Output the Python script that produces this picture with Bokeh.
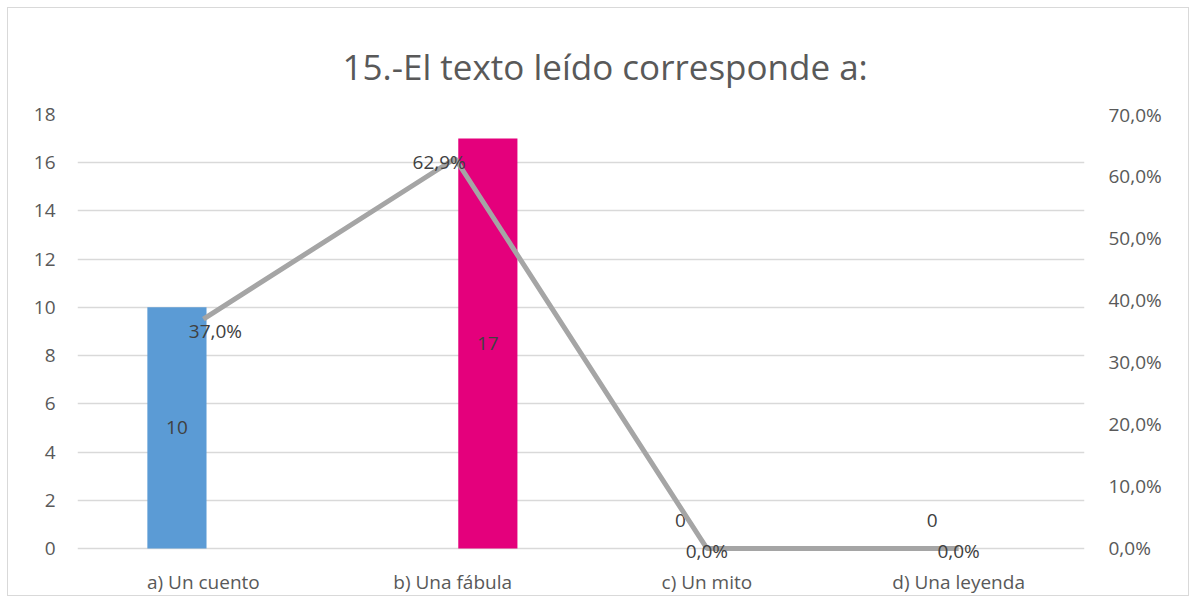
from bokeh.plotting import figure
from bokeh.models import ColumnDataSource, Range1d, LinearAxis, FixedTicker, CDSView, IndexFilter, CustomJSTickFormatter
from bokeh.transform import dodge
from bokeh.core.properties import value
from bokeh.embed import file_html
from bokeh.resources import INLINE

# ---- data ----
title_text = "15.-El texto leído corresponde a:"
categories = ["a) Un cuento", "b) Una  fábula", "c) Un mito", "d) Una leyenda"]
counts = [10, 17, 0, 0]
percents = [37.0, 62.9, 0.0, 0.0]
count_labels = ["10", "17", "0", "0"]
percent_labels = ["37,0%", "62,9%", "0,0%", "0,0%"]
left_ticks = [0, 2, 4, 6, 8, 10, 12, 14, 16, 18]
right_ticks = [0, 10, 20, 30, 40, 50, 60, 70]

FONT = "Open Sans"
TICK_COLOR = "#595959"
LABEL_COLOR = "#404040"

Y_LO = -0.5
p = figure(width=1182, height=589, x_range=categories, y_range=Range1d(Y_LO, 18),
           output_backend="svg", toolbar_location=None,
           min_border_left=69, min_border_right=106, min_border_top=106, min_border_bottom=35)
p.extra_y_ranges = {"pct": Range1d(Y_LO * 70 / 18, 70)}
p.styles = {"border": "1px solid #d9d9d9", "margin-left": "7px", "margin-top": "7px"}
p.outline_line_color = None
p.background_fill_color = "white"

p.title.text = title_text
p.title.align = "left"
p.title.offset = 265
p.title.text_font = FONT
p.title.text_font_size = "35px"
p.title.text_font_style = "normal"
p.title.text_color = TICK_COLOR
p.title.standoff = 50

src = ColumnDataSource(dict(
    cat=categories, count=counts, pct=percents,
    clab=count_labels, plab=percent_labels,
    cy=[c / 2 for c in counts],
    cyo=[0 if c else -28 for c in counts],
    pxo=[12, -16, 0, 0], pyo=[12, 3, 3, 3],
))
src.data["color"] = ["#5B9BD5", "#E4007C", "#5B9BD5", "#5B9BD5"]

# bars (offset within category like the reference)
view_b = CDSView(filter=IndexFilter([1]))
view_o = CDSView(filter=IndexFilter([0, 2, 3]))
p.vbar(x=dodge("cat", -0.105, range=p.x_range), top="count", width=0.235, fill_color="color",
       line_color=None, source=src, view=view_o)
p.vbar(x=dodge("cat", 0.13, range=p.x_range), top="count", width=0.235, fill_color="color",
       line_color=None, source=src, view=view_b)

# count labels
common = dict(text="clab", text_font=value(FONT), text_font_size="19px", text_color=LABEL_COLOR,
              text_align="center", text_baseline="middle", y_offset="cyo", source=src)
p.text(x=dodge("cat", -0.105, range=p.x_range), y="cy", view=view_o, **common)
p.text(x=dodge("cat", 0.13, range=p.x_range), y="cy", view=view_b, **common)

# percentage line
p.line(x="cat", y="pct", y_range_name="pct", line_color="#A5A5A5", line_width=5, source=src)
p.text(x="cat", y="pct", y_range_name="pct", text="plab", text_font=value(FONT), text_font_size="19px",
       text_color=LABEL_COLOR, text_align="center", text_baseline="middle",
       x_offset="pxo", y_offset="pyo", source=src)

# axes styling
def style_axis(ax, size):
    ax.axis_line_color = None
    ax.major_tick_line_color = None
    ax.minor_tick_line_color = None
    ax.major_label_text_font = FONT
    ax.major_label_text_font_size = size
    ax.major_label_text_color = TICK_COLOR

p.yaxis.ticker = FixedTicker(ticks=left_ticks)
style_axis(p.yaxis[0], "19px")
p.yaxis.major_label_standoff = 16
style_axis(p.xaxis[0], "19px")
p.xaxis.major_label_standoff = 2

right = LinearAxis(y_range_name="pct", ticker=FixedTicker(ticks=right_ticks),
                   formatter=CustomJSTickFormatter(code="return tick.toFixed(1).replace('.', ',') + '%';"))
style_axis(right, "19px")
right.major_label_standoff = 18
p.add_layout(right, "right")

p.xgrid.grid_line_color = None
p.ygrid.grid_line_color = "#D9D9D9"
p.ygrid.grid_line_width = 1.5
p.ygrid.ticker = FixedTicker(ticks=left_ticks)

open("out.html", "w").write(file_html(p, INLINE))
